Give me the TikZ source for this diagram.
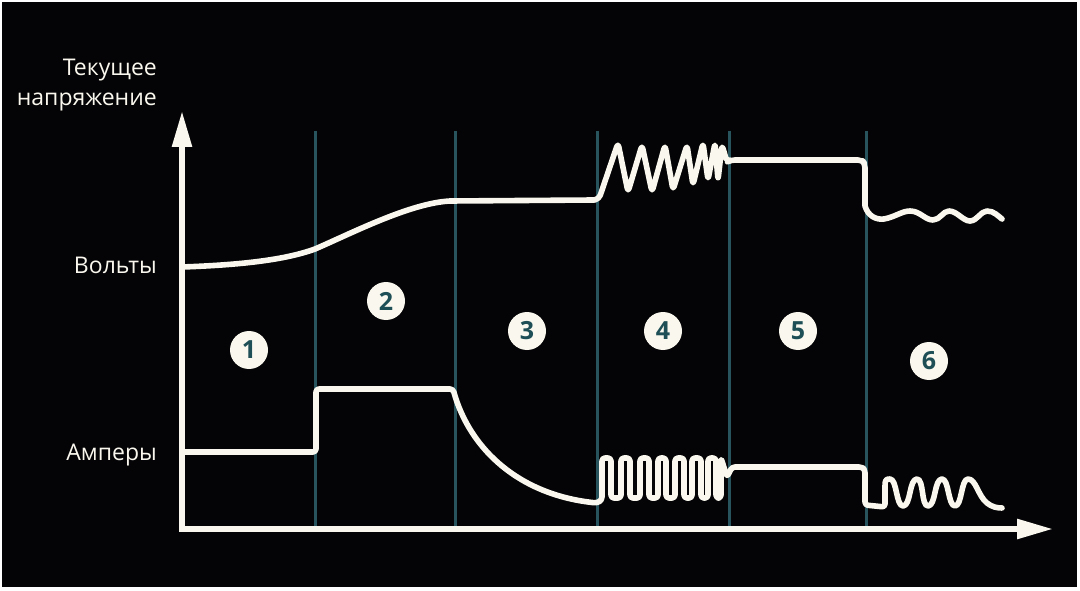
\documentclass[tikz,border=0pt]{standalone}
\usepackage{fontspec}
\setmainfont{Open Sans}
\usetikzlibrary{arrows.meta}
\definecolor{bgblack}{RGB}{4,4,6}
\definecolor{cream}{RGB}{250,248,238}
\definecolor{divteal}{RGB}{40,84,94}
\definecolor{numteal}{RGB}{30,78,86}
\begin{document}
\begin{tikzpicture}[x=1pt,y=-1pt,
  curve/.style={draw=cream,line width=5.6pt,line cap=round,line join=round},
  divider/.style={draw=divteal,line width=3pt},
  axislbl/.style={text=cream,font=\fontsize{23}{28}\selectfont,anchor=base east,inner sep=0pt},
  phase/.style={circle,fill=cream,text=numteal,minimum size=38pt,inner sep=0pt,font=\fontsize{25}{25}\selectfont\bfseries},
  axisline/.style={draw=cream,line width=5.6pt,line join=miter,{Triangle[length=36pt,width=19pt]}-{Triangle[length=36pt,width=19pt]}}]
\fill[white] (0,0) rectangle (1080,591);
\fill[bgblack] (2,2) rectangle (1077,587);
\useasboundingbox (0,0) rectangle (1080,591);
% dividers
\foreach \x/\n in {315/a,455/b,597/c,729/d,866/e}{
  \coordinate (t\n) at (\x,131);
  \coordinate (b\n) at (\x,527);
  \draw[divider] (t\n) -- (b\n);
}
% axes
\coordinate (O) at (182,529);
\coordinate (Ytip) at (182,111);
\coordinate (Xtip) at (1053,529);
\draw[axisline] (Ytip) -- (O) -- (Xtip);
% labels
\node[axislbl] (l1) at (157,76) {Текущее};
\node[axislbl] (l2) at (157,106) {напряжение};
\node[axislbl] (lv) at (157,273) {Вольты};
\node[axislbl] (la) at (157,460) {Амперы};
% voltage curve
\draw[curve] (182,267) .. controls (240,265) and (285,260) .. (315,249)
  .. controls (350,234) and (410,203) .. (450,201) -- (594,200);
\draw[curve,rounded corners=4pt] (594,200) -- (599,199)
  -- (618,143) -- (628,192) -- (642,145) -- (652,192) -- (665,145) -- (673,190)
  -- (687,145) -- (693,185) -- (703,143) -- (708,180) -- (715,143) -- (718,180)
  -- (722,145) -- (727,162) -- (731,160) -- (862,160) -- (865,164) -- (865,200);
\draw[curve] (865,200) -- (865,206) .. controls (868,216) and (876,220) .. (884,219)
  .. controls (895,217) and (902,211) .. (910,211)
  .. controls (920,211) and (925,220) .. (933,220)
  .. controls (940,220) and (943,211) .. (949,211)
  .. controls (957,211) and (963,221) .. (970,221)
  .. controls (977,221) and (981,211) .. (987,211)
  .. controls (994,211) and (998,216) .. (1002,219);
% current curve
\draw[curve,rounded corners=3pt] (182,452) -- (316,452) -- (316,389) -- (453,389)
  .. controls (470,450) and (520,495) .. (597,503) -- (602,500)
  -- (602,458) -- (611,458) -- (611,498) -- (621,498) -- (621,458) -- (630,458)
  -- (630,498) -- (640,498) -- (640,458) -- (649,458) -- (649,498) -- (658,498)
  -- (658,458) -- (666,458) -- (666,498) -- (675,498) -- (675,458) -- (684,458)
  -- (684,498) -- (692,498) -- (692,458) -- (701,458) -- (701,498) -- (708,498)
  -- (708,458) -- (716,458) -- (716,498) -- (721,498) -- (721,458) -- (727,477)
  -- (732,467) -- (862,467) -- (865,470) -- (865,505) -- (885,507) -- (885,490);
\draw[curve] (885,490) -- (885,486) .. controls (885,480) and (886,479) .. (890,479)
  .. controls (897,479) and (896,506) .. (903,506)
  .. controls (911,506) and (909,479) .. (917,479)
  .. controls (924,479) and (921,506) .. (928,506)
  .. controls (936,506) and (934,479) .. (942,479)
  .. controls (949,479) and (948,506) .. (955,506)
  .. controls (962,506) and (961,479) .. (968,479)
  .. controls (976,479) and (978,496) .. (987,503)
  .. controls (992,507) and (997,508) .. (1002,508);
% phase markers
\node[phase] (p1) at (249,350) {1};
\node[phase] (p2) at (386,301) {2};
\node[phase] (p3) at (527,331) {3};
\node[phase] (p4) at (663,331) {4};
\node[phase] (p5) at (798,331) {5};
\node[phase] (p6) at (929,361) {6};
\end{tikzpicture}
\end{document}
